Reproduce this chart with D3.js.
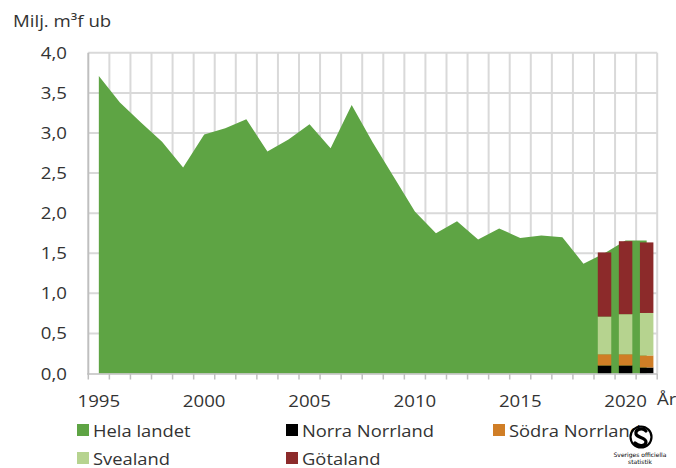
<!DOCTYPE html>
<html><head><meta charset="utf-8">
<script src="https://cdn.jsdelivr.net/npm/d3@7"></script>
<style>body{margin:0;background:#fff}svg{display:block}</style>
</head><body>
<svg id="c" width="676" height="468"></svg>
<script>
// ---- data ----
const years = [1995,1996,1997,1998,1999,2000,2001,2002,2003,2004,2005,2006,2007,2008,2009,2010,2011,2012,2013,2014,2015,2016,2017,2018,2019,2020,2021];
const helaLandet = [3.71,3.38,3.13,2.89,2.57,2.98,3.06,3.17,2.77,2.92,3.11,2.81,3.35,2.88,2.45,2.02,1.75,1.90,1.67,1.81,1.69,1.72,1.70,1.37,1.50,1.66,1.66];
const regionYears = [2019,2020,2021];
const norraNorrland = [0.10,0.10,0.075];
const sodraNorrland = [0.14,0.14,0.15];
const svealand = [0.47,0.50,0.53];
const gotaland = [0.80,0.91,0.88];
const yTicks = [0,0.5,1,1.5,2,2.5,3,3.5,4];
const xLabelYears = [1995,2000,2005,2010,2015,2020];
const seriesNames = ["Hela landet","Norra Norrland","Södra Norrland","Svealand","Götaland"];
const colors = ["#5ea444","#000000","#d07e26","#b6d38f","#8c2a2a"];

const svg = d3.select("#c");
const FONT = "'Open Sans', sans-serif";
const TXT = "#333";
const SX = 1.13;

const x = d3.scaleBand().domain(years).range([88.3, 657.2]).padding(0);
const cx = d => x(d) + x.bandwidth()/2;
const y = d3.scaleLinear().domain([0,4]).range([373.5, 52.8]);

// gridlines horizontal
svg.append("g").selectAll("line").data(yTicks.slice(1)).join("line")
  .attr("x1", 88.3).attr("x2", 657.2)
  .attr("y1", d=>y(d)).attr("y2", d=>y(d))
  .attr("stroke","#d9d9d9").attr("stroke-width",2);
// gridlines vertical at category boundaries
const bounds = years.map(d=>x(d)).concat([x.range()[1]]);
svg.append("g").selectAll("line").data(bounds.slice(1)).join("line")
  .attr("x1", d=>d).attr("x2", d=>d)
  .attr("y1", y(4)).attr("y2", y(0))
  .attr("stroke","#d9d9d9").attr("stroke-width",2);

// area
const area = d3.area().x((d,i)=>cx(years[i])).y0(y(0)).y1(d=>y(d));
svg.append("path").datum(helaLandet).attr("d", area).attr("fill", colors[0]);

// stacked bars
const rows = regionYears.map((yr,i)=>({year:yr, n:norraNorrland[i], s:sodraNorrland[i], v:svealand[i], g:gotaland[i]}));
const stack = d3.stack().keys(["n","s","v","g"])(rows);
const bw = x.bandwidth()*0.64;
svg.append("g").selectAll("g").data(stack).join("g")
  .attr("fill",(d,i)=>colors[i+1])
  .selectAll("rect").data(d=>d).join("rect")
  .attr("x", d=>cx(d.data.year)-bw/2).attr("width", bw)
  .attr("y", d=>y(d[1])).attr("height", d=>y(d[0])-y(d[1]));

// y axis line
svg.append("line").attr("x1",88.3).attr("x2",88.3).attr("y1",y(4)).attr("y2",y(0)+1)
  .attr("stroke","#bfbfbf").attr("stroke-width",2);
// x axis line + ticks
svg.append("line").attr("x1",87.3).attr("x2",657.2).attr("y1",y(0)+0.5).attr("y2",y(0)+0.5)
  .attr("stroke","#bfbfbf").attr("stroke-width",1.5);
svg.append("g").selectAll("line").data(bounds).join("line")
  .attr("x1",d=>d).attr("x2",d=>d).attr("y1",y(0)).attr("y2",y(0)+6)
  .attr("stroke","#bfbfbf").attr("stroke-width",1.5);

function txt(g, s, tx, ty, size, anchor, sx){
  return g.append("text").attr("transform",`translate(${tx},${ty}) scale(${sx||SX},1)`)
    .attr("text-anchor",anchor||"start").attr("font-family",FONT).attr("font-size",size)
    .attr("fill",TXT).text(s);
}
// y labels
yTicks.forEach(t=>txt(svg, d3.format(".1f")(t).replace(".",","), 67, y(t)+6, 16.5, "end"));
// x labels
xLabelYears.forEach(t=>txt(svg, String(t), cx(t), 406.5, 16.5, "middle"));
txt(svg, "År", 657, 405, 16.5, "start");
// title
txt(svg, "Milj. m³f ub", 13, 27, 16.5, "start");

// legend
const legPos = [[77,424],[286,424],[493,424],[77,452],[286,452]];
seriesNames.forEach((n,i)=>{
  svg.append("rect").attr("x",legPos[i][0]).attr("y",legPos[i][1]).attr("width",12).attr("height",12).attr("fill",colors[i]);
  txt(svg, n, legPos[i][0]+16, legPos[i][1]+12.5, 17, "start", 1.08);
});

// logo
const lg = svg.append("g").attr("transform","translate(641,437)");
lg.append("circle").attr("r",10.5).attr("fill","#fff").attr("stroke","#000").attr("stroke-width",2.2);
lg.append("path").attr("d","M5,-6 C2,-10 -6,-8 -5,-3 C-4,1 5,0 5,5 C5,9 -2,10 -6,6")
  .attr("fill","none").attr("stroke","#000").attr("stroke-width",3.2).attr("stroke-linecap","round");
svg.append("text").attr("x",640).attr("y",457).attr("text-anchor","middle").attr("font-family","'DejaVu Sans'").attr("font-size",6).attr("fill","#000").text("Sveriges officiella");
svg.append("text").attr("x",640).attr("y",464).attr("text-anchor","middle").attr("font-family","'DejaVu Sans'").attr("font-size",6).attr("fill","#000").text("statistik");
</script>
</body></html>
